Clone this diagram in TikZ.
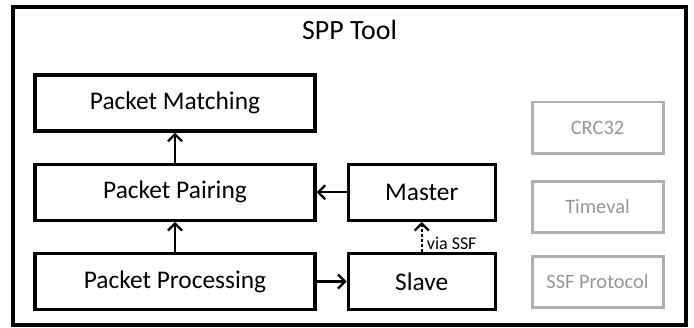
\documentclass[tikz,border=0pt]{standalone}
\usepackage{fontspec}
\setmainfont{Carlito}
\usetikzlibrary{arrows.meta, positioning}
\definecolor{framegray}{RGB}{175, 175, 175}
\definecolor{textgray}{RGB}{150, 150, 150}

\begin{document}
\begin{tikzpicture}[
      x=1bp, y=-1bp,
      node distance=30bp,
      block/.style={draw, line width=3.3pt, minimum height=56bp,
                    font=\fontsize{25.5}{28}\selectfont, inner sep=4pt},
      wide/.style={block, minimum width=280bp},
      narrow/.style={block, minimum width=147bp},
      helper/.style={draw=framegray, line width=3pt, text=textgray,
                     minimum width=131bp, minimum height=51bp,
                     font=\fontsize{20.5}{23}\selectfont},
      arr/.style={line width=2.3pt, -{Straight Barb[length=7bp, width=14bp, line width=2.3pt]}}
    ]
    \useasboundingbox (0,0) rectangle (694,327);
    \draw[line width=3.3pt] (13,7) rectangle (686,325);
    \node[font=\fontsize{28}{32}\selectfont] (title) at (349.5,30) {SPP Tool};

    % main chain
    \node[wide] (matching) at (175,103) {Packet Matching};
    \node[wide, below=of matching] (pairing) {Packet Pairing};
    \node[wide, below=of pairing] (processing) {Packet Processing};
    \node[narrow, right=of pairing] (master) {Master};
    \node[narrow, right=of processing] (slave) {Slave};

    % helpers
    \node[helper] (crc) at (597.5,127.5) {CRC32};
    \node[helper] (timeval) at (597.5,206.5) {Timeval};
    \node[helper] (ssf) at (597.5,281.5) {SSF Protocol};

    \draw[arr] (pairing) -- (matching);
    \draw[arr] (processing) -- (pairing);
    \draw[arr] (master) -- (pairing);
    \draw[arr] (processing) -- (slave);
    \draw[arr, dash pattern=on 3bp off 2bp] (slave) --
      node[right, pos=0.3, font=\fontsize{18}{20}\selectfont, inner sep=4pt] (via) {via SSF} (master);
  \end{tikzpicture}
\end{document}
